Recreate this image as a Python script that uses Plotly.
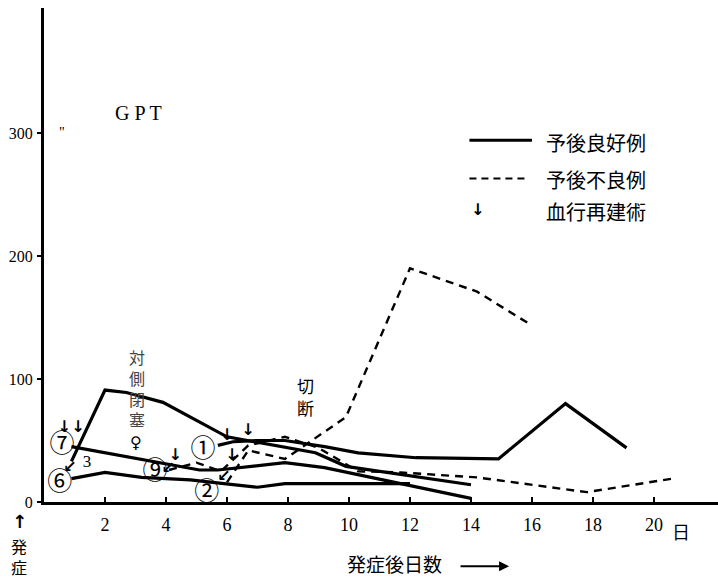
import plotly.graph_objects as go

# ---------------- data ----------------
# solid lines: good prognosis (予後良好例)
s3_day = [0.9, 2.0, 2.7, 3.9, 6.0, 6.9, 8.9, 9.9, 14.0]
s3_val = [33, 91, 89, 81, 53, 49, 40, 29, 14]

s7_day = [0.9, 4.2, 5.1, 5.7, 7.9, 9.2, 11.5, 14.0]
s7_val = [45, 30, 26, 26, 32, 28, 16, 3]

s6_day = [0.9, 2.0, 3.2, 4.8, 5.9, 7.0, 7.9, 9.2, 12.0]
s6_val = [19, 24, 20, 18, 15, 12, 15, 15, 15]

s1_day = [5.7, 6.2, 7.0, 7.9, 9.2, 10.3, 12.2, 14.9, 17.1, 19.1]
s1_val = [46, 49, 50, 50, 45, 40, 36, 35, 80, 44]

# dashed lines: poor prognosis (予後不良例)
d2_day = [6.0, 6.7, 7.9, 9.9, 12.0, 14.2, 15.9]
d2_val = [16, 42, 35, 69, 190, 171, 145]

d9_day = [4.1, 5.0, 5.8, 6.7, 7.9, 9.0, 10.3, 11.7, 14.2, 17.8, 20.6]
d9_val = [26, 32, 25, 46, 53, 44, 25, 24, 20, 8, 19]

# revascularisation arrows (血行再建術)
arrow_day = [0.66, 1.11, 0.85, 4.07, 4.3, 6.0, 6.69, 6.16, 5.9]
arrow_val = [60, 60, 28, 27, 37, 54, 58, 37, 20]
arrow_chr = ["↓", "↓", "↙", "↙", "↓", "↓", "↓", "↓", "↙"]

# case labels
label_day = [0.59, 0.52, 3.64, 5.21, 5.34]
label_val = [46, 15, 24, 42, 6.5]
label_txt = ["⑦", "⑥", "⑨", "①", "②"]
plain_label_day = [1.41]
plain_label_val = [32]
plain_label_txt = ["3"]

x_ticks = [2, 4, 6, 8, 10, 12, 14, 16, 18, 20]
y_ticks = [0, 100, 200, 300]

JP = "Noto Sans CJK JP"
SERIF = "Liberation Serif"

fig = go.Figure()

solid = dict(color="black", width=3.2)
dashed = dict(color="black", width=2.4, dash="8px,6px")

for d, v in [(s3_day, s3_val), (s7_day, s7_val), (s6_day, s6_val), (s1_day, s1_val)]:
    fig.add_trace(go.Scatter(x=d, y=v, mode="lines", line=solid, showlegend=False))
for d, v in [(d2_day, d2_val), (d9_day, d9_val)]:
    fig.add_trace(go.Scatter(x=d, y=v, mode="lines", line=dashed, showlegend=False))

fig.add_trace(go.Scatter(x=arrow_day, y=arrow_val, mode="text", text=[f"<b>{c}</b>" for c in arrow_chr],
                         textfont=dict(family="DejaVu Sans", size=16, color="#000000"),
                         showlegend=False))
fig.add_trace(go.Scatter(x=label_day, y=label_val, mode="text", text=label_txt,
                         textfont=dict(family=JP, size=25, color="#000000"),
                         showlegend=False))
fig.add_trace(go.Scatter(x=plain_label_day, y=plain_label_val, mode="text", text=plain_label_txt,
                         textfont=dict(family=SERIF, size=17, color="#000000"),
                         showlegend=False))

ann = []
def txt(x, y, t, size=16, family=JP, color="black", xref="x", yref="y", xanchor="center"):
    ann.append(dict(x=x, y=y, xref=xref, yref=yref, text=t, showarrow=False,
                    xanchor=xanchor, yanchor="middle",
                    font=dict(family=family, size=size, color=color)))

txt(3.1, 316, "G P T", size=20, family=SERIF)
txt(0.6, 300, '"', size=14, family=SERIF)
txt(3.05, 93, "対<br>側<br>閉<br>塞", size=16, color="#444")
txt(3.02, 48, "♀", size=16, family="DejaVu Sans")
txt(8.56, 86, "切<br>断", size=17)

# legend (drawn by hand)
shapes = [
    dict(type="line", x0=13.95, x1=16.0, y0=294, y1=294, xref="x", yref="y",
         line=dict(color="black", width=3)),
    dict(type="line", x0=13.95, x1=15.9, y0=263, y1=263, xref="x", yref="y",
         line=dict(color="black", width=2.2, dash="7px,5px")),
]
txt(16.4, 292, "予後良好例", size=20, xanchor="left")
txt(16.4, 262, "予後不良例", size=20, xanchor="left")
txt(16.4, 236, "血行再建術", size=20, xanchor="left")
txt(14.2, 238, "<b>↓</b>", size=16, family="DejaVu Sans")

# bottom texts
txt(-0.037, -0.04, "<b>↑</b>", size=18, family="DejaVu Sans", xref="paper", yref="paper")
txt(-0.037, -0.09, "発", size=16, xref="paper", yref="paper")
txt(-0.037, -0.131, "症", size=16, xref="paper", yref="paper")
txt(0.945, -0.058, "日", size=18, xref="paper", yref="paper")
txt(0.52, -0.125, "発症後日数", size=19, xref="paper", yref="paper")
ann.append(dict(x=0.69, y=-0.13, xref="paper", yref="paper", ax=-50, ay=0,
                text="", showarrow=True, arrowhead=2, arrowsize=1, arrowwidth=2,
                arrowcolor="black"))

fig.update_layout(
    width=718, height=579,
    margin=dict(l=44, r=0, t=8, b=77),
    paper_bgcolor="white", plot_bgcolor="white",
    annotations=ann, shapes=shapes,
    xaxis=dict(range=[0, 22.1], tickvals=x_ticks, ticktext=[str(t) for t in x_ticks],
               showgrid=False, zeroline=False, showline=True, linecolor="black",
               linewidth=3, ticks="inside", ticklen=5, tickwidth=2, tickcolor="black",
               ticklabelstandoff=4,
               tickfont=dict(family=SERIF, size=18, color="black")),
    yaxis=dict(range=[0, 401.6], tickvals=y_ticks, ticktext=[str(t) for t in y_ticks],
               showgrid=False, zeroline=False, showline=True, linecolor="black",
               linewidth=3, ticks="outside", ticklen=4, tickwidth=2, tickcolor="black",
               ticklabelstandoff=1,
               tickfont=dict(family=SERIF, size=16, color="black")),
)

fig.write_html("out.html", config={"displayModeBar": False},
               post_script="document.body.style.margin='0';document.body.style.overflow='hidden';")
